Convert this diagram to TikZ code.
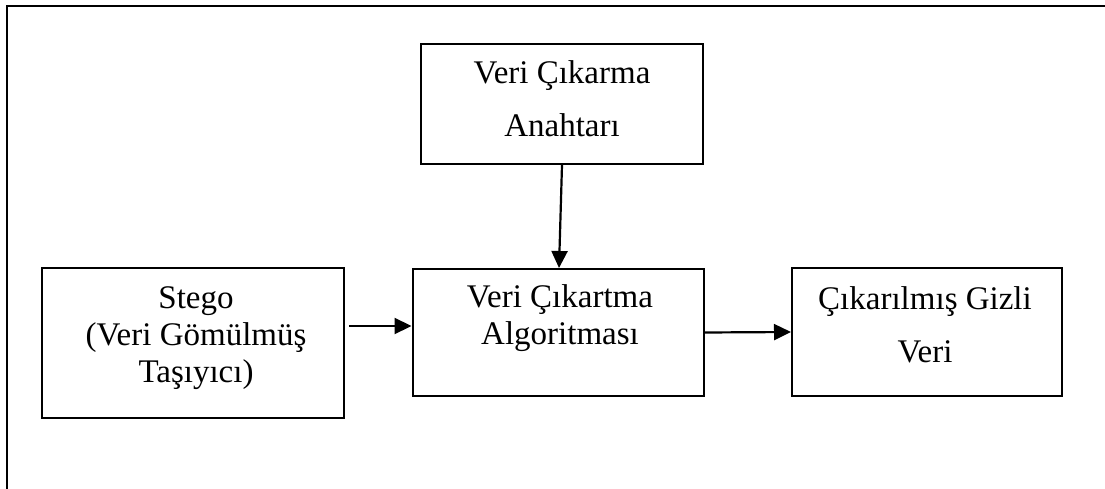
\documentclass[tikz,border=0pt]{standalone}
\usepackage{fontspec}
\setmainfont{Liberation Serif}
\usetikzlibrary{arrows.meta}

\tikzset{
  box/.style={draw, line width=2pt, rectangle, inner sep=0pt},
  label text/.style={inner sep=0pt, anchor=base},
  wide/.style={font=\fontsize{33}{53}\selectfont},
  tight/.style={font=\fontsize{33}{37}\selectfont},
  arr/.style={line width=2.2pt, -{Triangle[length=17pt, width=16pt]}},
}

\begin{document}
\begin{tikzpicture}[x=1pt, y=-1pt]
  \useasboundingbox (0,0) rectangle (1105,489);

  % open page frame: left and top edges only
  \draw[line width=2.4pt] (7,489) -- (7,6) -- (1105,6);

  % blocks
  \node[box, minimum width=282pt, minimum height=120pt] (key)  at (562,104)   {};
  \node[box, minimum width=302pt, minimum height=150pt] (stego) at (193,343)  {};
  \node[box, minimum width=291pt, minimum height=127pt] (alg)  at (558,332.5) {};
  \node[box, minimum width=270pt, minimum height=128pt] (out)  at (927,332)   {};

  % block captions
  \node[label text, wide] (keyt) at ([yshift=-41pt]key.north)
    {\begin{tabular}[t]{@{}c@{}}Veri Çıkarma\\Anahtarı\end{tabular}};
  \node[label text, tight] (stegot) at ([xshift=3pt, yshift=-41pt]stego.north)
    {\begin{tabular}[t]{@{}c@{}}Stego\\(Veri Gömülmüş\\Taşıyıcı)\end{tabular}};
  \node[label text, tight] (algt) at ([xshift=2pt, yshift=-39pt]alg.north)
    {\begin{tabular}[t]{@{}c@{}}Veri Çıkartma\\Algoritması\end{tabular}};
  \node[label text, wide] (outt) at ([xshift=-2pt, yshift=-42pt]out.north)
    {\begin{tabular}[t]{@{}c@{}}Çıkarılmış Gizli\\Veri\end{tabular}};

  % flow
  \draw[arr] (key.south) -- ([xshift=1pt]alg.north);
  \draw[arr] ([xshift=4pt, yshift=17pt]stego.east) -- ([yshift=6.5pt]alg.west);
  \draw[arr] (alg.east) -- (out.west);
\end{tikzpicture}
\end{document}
